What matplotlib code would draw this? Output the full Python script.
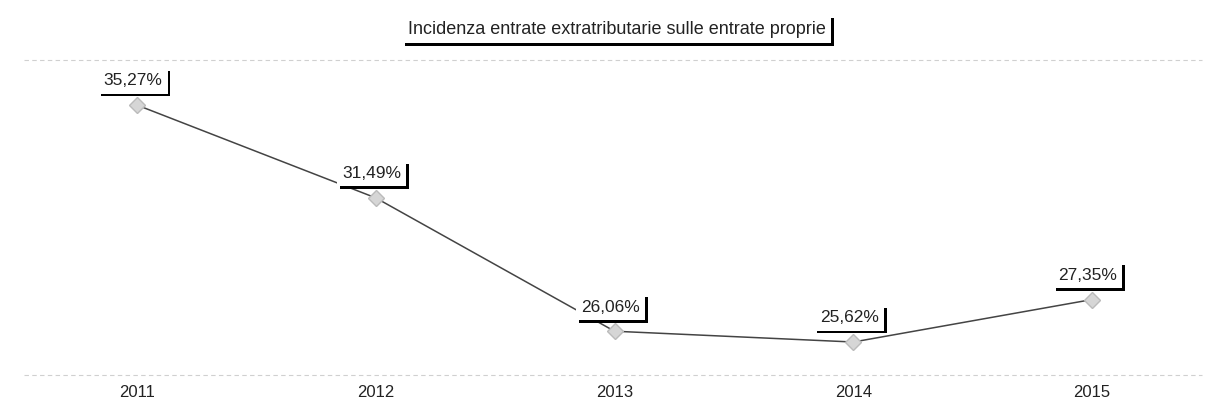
import matplotlib
matplotlib.use("Agg")
import matplotlib.pyplot as plt
import matplotlib.patheffects as pe

years = ["2011", "2012", "2013", "2014", "2015"]
values = [35.27, 31.49, 26.06, 25.62, 27.35]
labels = ["35,27%", "31,49%", "26,06%", "25,62%", "27,35%"]
title = "Incidenza entrate extratributarie sulle entrate proprie"

plt.rcParams["font.family"] = ["Liberation Sans", "DejaVu Sans"]

fig = plt.figure(figsize=(12.14, 4.12), dpi=100)
ax = fig.add_axes([0, 0, 1, 1])
ax.set_xlim(-0.574, 4.511)
ax.set_ylim(22.77, 39.55)
ax.axis("off")

x = list(range(len(years)))
ax.plot(x, values, color="#444444", linewidth=1.1, zorder=2)
ax.plot(x, values, linestyle="none", marker="D", markersize=8,
        markerfacecolor="#d6d6d6", markeredgecolor="#bbbbbb", zorder=3)

shadow = [pe.withSimplePatchShadow(offset=(2, -2), shadow_rgbFace="black", alpha=1)]

for xi, v, lab in zip(x, values, labels):
    t = ax.annotate(lab, (xi, v), xytext=(-3, 12), textcoords="offset points",
                    ha="center", va="bottom", fontsize=12.5, color="#222222",
                    bbox=dict(boxstyle="square,pad=0.3", facecolor="white", edgecolor="none"),
                    zorder=4)
    t.get_bbox_patch().set_path_effects(shadow)

for xi, yr in zip(x, years):
    ax.text(xi, 22.77 + (412 - 392) / 24.56, yr, ha="center", va="center",
            fontsize=12, color="#222222")

tt = fig.text(0.508, 1 - 29 / 412, title, ha="center", va="center",
              fontsize=13, color="#222222",
              bbox=dict(boxstyle="square,pad=0.3", facecolor="white", edgecolor="none"))
tt.get_bbox_patch().set_path_effects(shadow)

# faint scanned guide lines
for yy in [60, 375]:
    fig.add_artist(plt.Line2D([0.02, 0.99], [1 - yy / 412, 1 - yy / 412],
                              color="#d0d0d0", linewidth=0.8, linestyle=(0, (4, 3))))

fig.savefig("out.png", dpi=100, facecolor="white")
